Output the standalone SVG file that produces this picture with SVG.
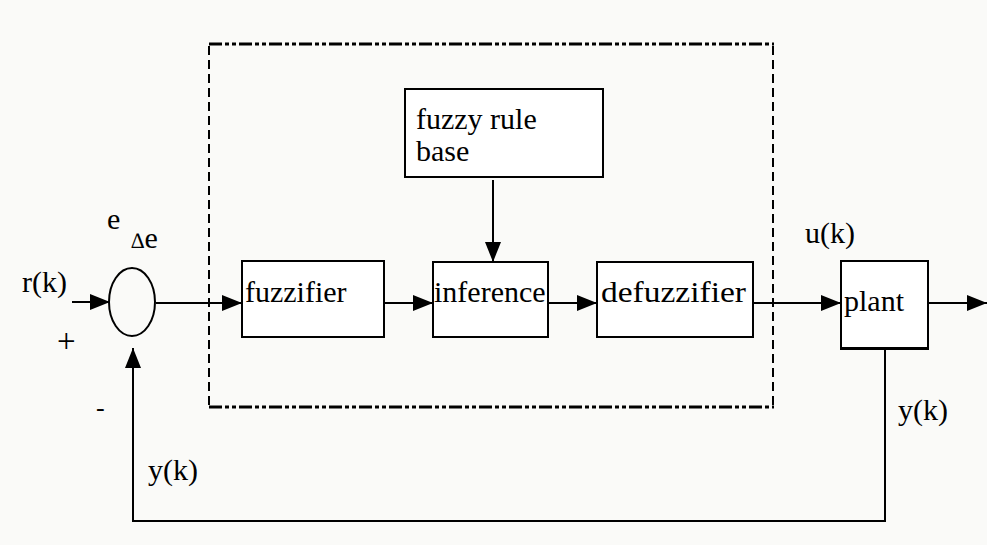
<svg xmlns="http://www.w3.org/2000/svg" width="987" height="545" viewBox="0 0 987 545">
  <style>
    .box { fill: #ffffff; stroke: #000000; stroke-width: 2; }
    .wire { fill: none; stroke: #000000; stroke-width: 2; }
    .frame-h { fill: none; stroke: #000000; stroke-width: 3; stroke-dasharray: 13 3 4 3 4 3; }
    .frame-v { fill: none; stroke: #000000; stroke-width: 2; stroke-dasharray: 9 5; }
    text { font-family: 'Liberation Serif', 'DejaVu Serif', serif; font-size: 30px; fill: #000000; }
    .sign { font-size: 33px; }
    .minus { font-size: 26px; }
    .delta { font-size: 22px; }
  </style>
  <defs>
    <marker id="arrow" markerUnits="userSpaceOnUse" markerWidth="20" markerHeight="16" viewBox="0 0 20 16" refX="20" refY="8" orient="auto">
      <path d="M0,0 L20,8 L0,16 Z" fill="#000000"/>
    </marker>
  </defs>

  <rect x="0" y="0" width="987" height="545" fill="#fafaf8"/>

  <!-- controller boundary -->
  <g id="controller-frame">
    <line class="frame-h" x1="209" y1="44" x2="774" y2="44"/>
    <line class="frame-h" x1="209" y1="407" x2="774" y2="407"/>
    <line class="frame-v" x1="209" y1="46" x2="209" y2="406"/>
    <line class="frame-v" x1="773" y1="46" x2="773" y2="406"/>
  </g>

  <!-- connectors -->
  <g id="connectors">
    <line class="wire" x1="72" y1="302" x2="110" y2="302" marker-end="url(#arrow)"/>
    <line class="wire" x1="156" y1="303" x2="242" y2="303" marker-end="url(#arrow)"/>
    <line class="wire" x1="384" y1="303" x2="433" y2="303" marker-end="url(#arrow)"/>
    <line class="wire" x1="548" y1="303" x2="597" y2="303" marker-end="url(#arrow)"/>
    <line class="wire" x1="753" y1="303" x2="841" y2="303" marker-end="url(#arrow)"/>
    <line class="wire" x1="928" y1="303" x2="987" y2="303" marker-end="url(#arrow)"/>
    <line class="wire" x1="493" y1="180" x2="493" y2="262" marker-end="url(#arrow)"/>
    <polyline class="wire" points="885,349 885,521 133,521 133,348" marker-end="url(#arrow)"/>
  </g>

  <!-- summing junction -->
  <g id="sum">
    <ellipse cx="132" cy="302" rx="23" ry="34" fill="none" stroke="#000000" stroke-width="2"/>
    <text x="22" y="292">r(k)</text>
    <text x="107" y="229">e</text>
    <text x="131" y="248"><tspan class="delta">∆</tspan>e</text>
    <text class="sign" x="57" y="352">+</text>
    <text class="minus" x="96" y="416">-</text>
  </g>

  <g id="rule-base">
    <rect class="box" x="405" y="89" width="198" height="88"/>
    <text x="416" y="129">fuzzy rule</text>
    <text x="416" y="161">base</text>
  </g>

  <g id="fuzzifier">
    <rect class="box" x="242" y="261" width="142" height="76"/>
    <text x="245" y="302">fuzzifier</text>
  </g>

  <g id="inference">
    <rect class="box" x="433" y="262" width="115" height="75"/>
    <text x="434" y="302">inference</text>
  </g>

  <g id="defuzzifier">
    <rect class="box" x="597" y="262" width="156" height="75"/>
    <text x="601" y="302" textLength="145" lengthAdjust="spacingAndGlyphs">defuzzifier</text>
  </g>

  <g id="plant">
    <rect class="box" x="841" y="261" width="87" height="88"/>
    <line x1="841" y1="348.5" x2="928" y2="348.5" stroke="#000000" stroke-width="3"/>
    <text x="844" y="311">plant</text>
    <text x="805" y="243">u(k)</text>
    <text x="898" y="420">y(k)</text>
  </g>

  <g id="feedback-label">
    <text x="148" y="480">y(k)</text>
  </g>
</svg>
